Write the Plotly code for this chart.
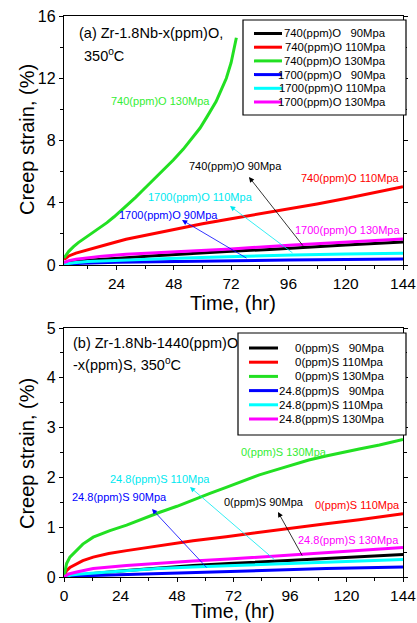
import plotly.graph_objects as go

# ---------------- data: panel (a) Zr-1.8Nb-x(ppm)O ----------------
a_names = ["740(ppm)O   90Mpa", "740(ppm)O 110Mpa", "740(ppm)O 130Mpa",
           "1700(ppm)O   90Mpa", "1700(ppm)O 110Mpa", "1700(ppm)O 130Mpa"]

a_740_90_t = [2, 6, 12, 20, 28, 40, 56, 72, 88, 102, 120, 144]
a_740_90_v = [0.08, 0.2, 0.3, 0.4, 0.47, 0.6, 0.75, 0.88, 1.0, 1.14, 1.28, 1.47]

a_740_110_t = [2, 4, 7, 10, 14, 20, 28, 36, 48, 60, 72, 84, 96, 108, 120, 132, 144]
a_740_110_v = [0.35, 0.58, 0.76, 0.9, 1.05, 1.32, 1.65, 1.9, 2.3, 2.65, 2.97, 3.28, 3.58, 3.92, 4.27, 4.64, 5.03]

a_740_130_t = [2, 3, 4, 6, 8, 11, 14, 17, 20, 23, 26, 29, 32, 35, 38, 41, 44, 47.8, 52, 55, 59, 62, 65.7, 68, 70, 72, 73.2, 74.2]
a_740_130_v = [0.45, 0.68, 0.88, 1.18, 1.44, 1.76, 2.07, 2.38, 2.72, 3.1, 3.5, 3.93, 4.35, 4.8, 5.25, 5.7, 6.15, 6.75, 7.45, 8.0, 8.8, 9.55, 10.5, 11.3, 12.0, 13.0, 13.8, 14.6]

a_1700_90_t = [2, 10, 24, 48, 72, 96, 120, 144]
a_1700_90_v = [0.03, 0.12, 0.18, 0.24, 0.28, 0.32, 0.35, 0.38]

a_1700_110_t = [2, 6, 12, 20, 28, 40, 56, 72, 98, 120, 144]
a_1700_110_v = [0.05, 0.15, 0.22, 0.28, 0.33, 0.39, 0.47, 0.54, 0.64, 0.7, 0.76]

a_1700_130_t = [2, 4, 7, 12, 18, 28, 40, 56, 72, 98, 120, 144]
a_1700_130_v = [0.15, 0.28, 0.37, 0.48, 0.57, 0.69, 0.78, 0.9, 1.03, 1.29, 1.48, 1.67]

# ---------------- data: panel (b) Zr-1.8Nb-1440(ppm)O-x(ppm)S ----------------
b_names = ["0(ppm)S   90Mpa", "0(ppm)S 110Mpa", "0(ppm)S 130Mpa",
           "24.8(ppm)S   90Mpa", "24.8(ppm)S 110Mpa", "24.8(ppm)S 130Mpa"]

b_0_90_t = [0, 5, 12.4, 26.6, 40, 54.8, 70, 83, 98, 111.3, 128, 144]
b_0_90_v = [0, 0.03, 0.07, 0.13, 0.18, 0.23, 0.27, 0.3, 0.34, 0.37, 0.41, 0.45]

b_0_110_t = [0, 1.1, 2.5, 5.4, 8, 12.4, 19, 26.6, 40.7, 54.8, 68.9, 83, 97.2, 111.3, 125.4, 144]
b_0_110_v = [0, 0.13, 0.19, 0.27, 0.33, 0.4, 0.47, 0.53, 0.63, 0.73, 0.81, 0.9, 0.99, 1.07, 1.15, 1.27]

b_0_130_t = [0, 0.5, 1.1, 2.5, 5.4, 8, 12.4, 19.5, 26.6, 33, 40.7, 48, 54.8, 62, 68.9, 76, 83, 90, 97.2, 104, 111.3, 118, 125.4, 134, 144]
b_0_130_v = [0, 0.15, 0.27, 0.4, 0.54, 0.66, 0.8, 0.93, 1.04, 1.16, 1.3, 1.42, 1.55, 1.68, 1.8, 1.93, 2.05, 2.15, 2.25, 2.35, 2.43, 2.5, 2.57, 2.65, 2.76]

b_248_90_t = [0, 5, 12.4, 26.6, 54.8, 83, 111.3, 144]
b_248_90_v = [0, 0.02, 0.03, 0.05, 0.1, 0.13, 0.17, 0.2]

b_248_110_t = [0, 3, 7, 12.4, 26.6, 40, 54.8, 83, 111.3, 144]
b_248_110_v = [0, 0.04, 0.06, 0.08, 0.13, 0.17, 0.2, 0.25, 0.29, 0.35]

b_248_130_t = [0, 2, 5.4, 12.4, 26.6, 40, 54.8, 70, 83, 98, 111.3, 128, 144]
b_248_130_v = [0, 0.06, 0.1, 0.17, 0.23, 0.28, 0.32, 0.36, 0.4, 0.45, 0.49, 0.54, 0.59]

a_series = [(a_740_90_t, a_740_90_v), (a_740_110_t, a_740_110_v), (a_740_130_t, a_740_130_v),
            (a_1700_90_t, a_1700_90_v), (a_1700_110_t, a_1700_110_v), (a_1700_130_t, a_1700_130_v)]
b_series = [(b_0_90_t, b_0_90_v), (b_0_110_t, b_0_110_v), (b_0_130_t, b_0_130_v),
            (b_248_90_t, b_248_90_v), (b_248_110_t, b_248_110_v), (b_248_130_t, b_248_130_v)]

x_tick_vals = [24, 48, 72, 96, 120, 144]
x_title = "Time, (hr)"
y_title = "Creep strain, (%)"

# ---------------- styles ----------------
COLORS = ["#000000", "#FF0000", "#22E022", "#0000FF", "#00FFFF", "#FF00FF"]
LABEL_COLORS = ["#000000", "#FF0000", "#33EE33", "#0000FF", "#00E8F0", "#FF00FF"]
FONT = "Arial, Liberation Sans, sans-serif"
W, H = 417, 623
L, R = 64, 14
PW = W - L - R

def P(px, py):
    return (px - L) / PW, 1 - py / H

fig = go.Figure()
for (t, v), c, n in zip(a_series, COLORS, a_names):
    fig.add_trace(go.Scatter(x=t, y=v, mode="lines", name=n, line=dict(color=c, width=3),
                             xaxis="x", yaxis="y", showlegend=False))
for (t, v), c, n in zip(b_series, COLORS, b_names):
    fig.add_trace(go.Scatter(x=t, y=v, mode="lines", name=n, line=dict(color=c, width=3),
                             xaxis="x2", yaxis="y2", showlegend=False))

shapes = []
annotations = []

def legend_box(names, box, x0, x1, xtext, y0, dy, fsize):
    bx0, by0, bx1, by1 = box
    p0 = P(bx0, by1); p1 = P(bx1, by0)
    shapes.append(dict(type="rect", xref="paper", yref="paper", x0=p0[0], y0=p0[1], x1=p1[0], y1=p1[1],
                       line=dict(color="black", width=1.2), fillcolor="white", layer="above"))
    for i, (n, c) in enumerate(zip(names, COLORS)):
        y = y0 + i * dy
        a = P(x0, y); b = P(x1, y)
        shapes.append(dict(type="line", xref="paper", yref="paper", x0=a[0], y0=a[1], x1=b[0], y1=b[1],
                           line=dict(color=c, width=3), layer="above"))
        tp = P(xtext, y)
        annotations.append(dict(xref="paper", yref="paper", x=tp[0], y=tp[1], xanchor="right", yanchor="middle",
                                text=n.replace(" ", "\u00a0"), showarrow=False,
                                font=dict(family=FONT, size=fsize, color="black")))

legend_box(a_names, (243, 20, 406, 115), 254, 282, 388, 33.5, 13.7, 11.3)
legend_box(b_names, (238, 333, 406, 435), 249, 278, 386, 348, 14.2, 11.5)

def text(px, py, s, color="black", size=11, anchor="center", angle=0, vanchor="middle"):
    x, y = P(px, py)
    annotations.append(dict(xref="paper", yref="paper", x=x, y=y, xanchor=anchor, yanchor=vanchor,
                            text=s, showarrow=False, textangle=angle,
                            font=dict(family=FONT, size=size, color=color)))

def arrow(tail, head, color):
    x, y = P(*head)
    annotations.append(dict(xref="paper", yref="paper", x=x, y=y, ax=tail[0] - head[0], ay=tail[1] - head[1],
                            showarrow=True, arrowhead=2, arrowsize=1.3, arrowwidth=0.8, arrowcolor=color,
                            text=""))

# axis titles
text(233, 303, x_title, size=20)
text(233, 624, x_title, size=19.5, vanchor="bottom")
text(27, 140, y_title, size=20, angle=-90)
text(27, 454, y_title, size=20, angle=-90)

# panel (a) texts
text(77, 33, "(a) Zr-1.8Nb-x(ppm)O,", size=14.5, anchor="left")
text(82, 55, "350<sup>o</sup>C", size=14.5, anchor="left")
a_label_pos = [(235, 166), (350, 178), (160, 101), (168, 215), (200, 197), (347.5, 230)]
a_label_txt = ["740(ppm)O 90Mpa", "740(ppm)O 110Mpa", "740(ppm)O 130Mpa",
               "1700(ppm)O 90Mpa", "1700(ppm)O 110Mpa", "1700(ppm)O 130Mpa"]
for (px, py), s, c in zip(a_label_pos, a_label_txt, LABEL_COLORS):
    text(px, py, s, color=c, size=11)
arrow((304, 247), (249, 177), "black")
arrow((294, 254), (230, 206), "#00E8F0")
arrow((248, 259), (182, 220), "#0000FF")

# panel (b) texts
text(71, 343, "(b) Zr-1.8Nb-1440(ppm)O", size=14.5, anchor="left")
text(71, 364, "-x(ppm)S, 350<sup>o</sup>C", size=14.5, anchor="left")
b_label_pos = [(263.5, 502), (357, 505), (284, 452), (119, 497), (160, 479), (348, 540)]
b_label_txt = ["0(ppm)S 90Mpa", "0(ppm)S 110Mpa", "0(ppm)S 130Mpa",
               "24.8(ppm)S 90Mpa", "24.8(ppm)S 110Mpa", "24.8(ppm)S 130Mpa"]
for (px, py), s, c in zip(b_label_pos, b_label_txt, LABEL_COLORS):
    text(px, py, s, color=c, size=11)
arrow((303, 557), (278, 512), "black")
arrow((276, 561), (190, 487), "#00E8F0")
arrow((208, 569), (152, 509), "#0000FF")

def xax(anchor, rng, tickvals):
    return dict(anchor=anchor, range=rng, tickvals=tickvals, ticktext=[str(v) for v in tickvals],
                showgrid=False, zeroline=False, showline=True, linecolor="black", linewidth=1.3,
                mirror=True, ticks="outside", ticklen=4, tickwidth=1.2, tickcolor="black",
                minor=dict(dtick=12, ticks="outside", ticklen=2.5, tickwidth=1, tickcolor="black"),
                ticklabeloverflow="allow", automargin=False,
                tickfont=dict(family=FONT, size=15.5, color="black"))

def yax(domain, anchor, rng, dtick, mdtick):
    return dict(domain=domain, anchor=anchor, range=rng, dtick=dtick, tick0=0,
                showgrid=False, zeroline=False, showline=True, linecolor="black", linewidth=1.3,
                mirror="ticks", ticks="outside", ticklen=4, tickwidth=1.2, tickcolor="black",
                minor=dict(dtick=mdtick, ticks="outside", ticklen=2.5, tickwidth=1, tickcolor="black"),
                automargin=False,
                tickfont=dict(family=FONT, size=16, color="black"))

fig.update_layout(
    width=W, height=H,
    margin=dict(l=L, r=R, t=0, b=0, pad=0),
    paper_bgcolor="white", plot_bgcolor="white",
    xaxis=xax("y", [2, 144], x_tick_vals),
    yaxis=yax([1 - 265 / H, 1 - 16 / H], "x", [0, 16], 4, 2),
    xaxis2=xax("y2", [0, 144], [0] + x_tick_vals),
    yaxis2=yax([1 - 577 / H, 1 - 328 / H], "x2", [0, 5], 1, 0.5),
    shapes=shapes, annotations=annotations,
    showlegend=False,
)

fig.write_html("out.html", config={"displayModeBar": False},
               post_script="document.body.style.margin='0';document.body.style.overflow='hidden';")
